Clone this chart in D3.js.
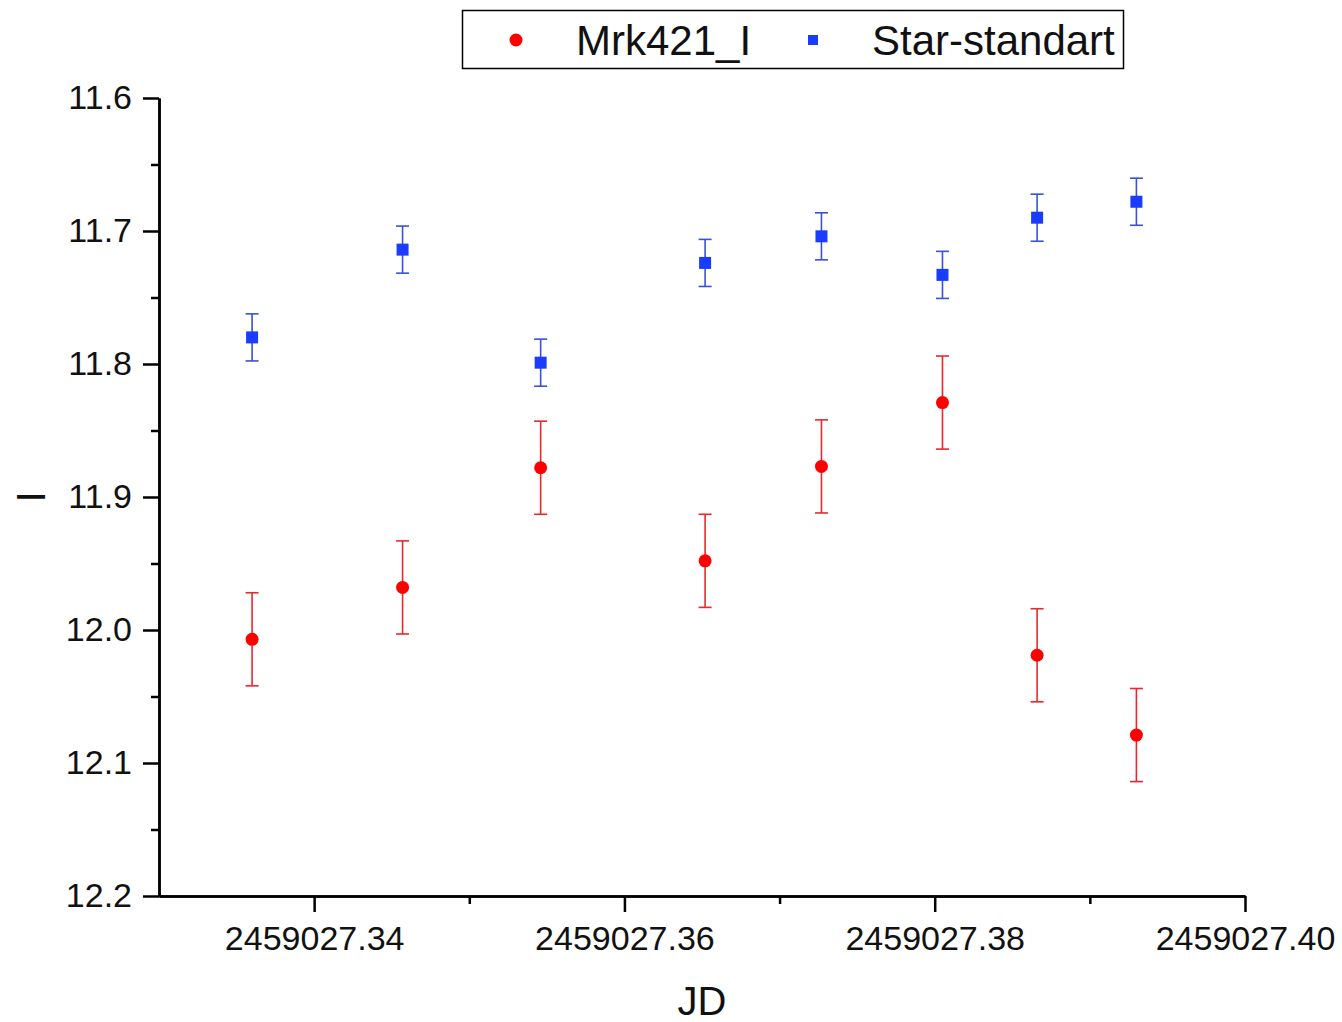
<!DOCTYPE html>
<html><head><meta charset="utf-8">
<script src="https://cdn.jsdelivr.net/npm/d3@7"></script>
<style>html,body{margin:0;padding:0;background:#fff;}</style>
</head><body>
<svg id="chart" width="1342" height="1022"></svg>
<script>
const jd = [2459027.3360, 2459027.3457, 2459027.3546, 2459027.3652, 2459027.3727, 2459027.3805, 2459027.3866, 2459027.3930];
const mrk421 = [12.007, 11.968, 11.878, 11.948, 11.877, 11.829, 12.019, 12.079];
const mrk421Err = [0.035, 0.035, 0.035, 0.035, 0.035, 0.035, 0.035, 0.035];
const starStd = [11.780, 11.714, 11.799, 11.724, 11.704, 11.733, 11.690, 11.678];
const starErr = [0.0177, 0.0177, 0.0177, 0.0177, 0.0177, 0.0177, 0.0177, 0.0177];
const xTicks = [2459027.34, 2459027.36, 2459027.38, 2459027.40];
const xMinor = [2459027.35, 2459027.37, 2459027.39];
const yTicks = [11.6, 11.7, 11.8, 11.9, 12.0, 12.1, 12.2];
const yMinor = [11.65, 11.75, 11.85, 11.95, 12.05, 12.15];
const seriesNames = ["Mrk421_I", "Star-standart"];

const font = "Arial, 'Liberation Sans', sans-serif";
const svg = d3.select("#chart");
const L = 159, R = 1245, T = 98, B = 896;
const x = d3.scaleLinear().domain([2459027.33, 2459027.40]).range([L, R]);
const y = d3.scaleLinear().domain([11.6, 12.2]).range([T, B]);

const red = "#ff0000", redBar = "#e8282e";
const blue = "#1a3cff", blueBar = "#3a4fdc";

const xAxis = d3.axisBottom(x).tickValues(xTicks).tickFormat(d3.format(".2f")).tickSizeInner(16).tickSizeOuter(0).tickPadding(14);
const xAxisMinor = d3.axisBottom(x).tickValues(xMinor).tickFormat("").tickSizeInner(8).tickSizeOuter(0);
const yAxis = d3.axisLeft(y).tickValues(yTicks).tickFormat(d3.format(".1f")).tickSizeInner(16).tickSizeOuter(0).tickPadding(11);
const yAxisMinor = d3.axisLeft(y).tickValues(yMinor).tickFormat("").tickSizeInner(8).tickSizeOuter(0);

function style(g){
  g.selectAll("path.domain").attr("stroke","#000").attr("stroke-width",2.5);
  g.selectAll(".tick line").attr("stroke","#000").attr("stroke-width",2.5);
  g.selectAll("text").attr("font-family",font).attr("font-size",34).attr("fill","#111");
}
svg.append("g").attr("transform",`translate(0,${B})`).call(xAxisMinor).call(style);
svg.append("g").attr("transform",`translate(0,${B})`).call(xAxis).call(style);
svg.append("g").attr("transform",`translate(${L},0)`).call(yAxisMinor).call(style);
svg.append("g").attr("transform",`translate(${L},0)`).call(yAxis).call(style);

svg.append("text").attr("x",702).attr("y",1015).attr("text-anchor","middle")
  .attr("font-family",font).attr("font-size",40).attr("fill","#111").text("JD");
svg.append("text").attr("transform",`translate(45,${(T+B)/2}) rotate(-90)`).attr("text-anchor","middle")
  .attr("font-family",font).attr("font-size",40).attr("fill","#111").text("I");

function drawSeries(vals, errs, barColor, markColor, shape){
  const g = svg.append("g");
  const data = jd.map((d,i)=>({x:d, y:vals[i], e:errs[i]}));
  const capW = 6.5;
  data.forEach(d=>{
    const cx = x(d.x), y1 = y(d.y - d.e), y2 = y(d.y + d.e);
    g.append("line").attr("x1",cx).attr("x2",cx).attr("y1",y1).attr("y2",y2).attr("stroke",barColor).attr("stroke-width",1.6);
    g.append("line").attr("x1",cx-capW).attr("x2",cx+capW).attr("y1",y1).attr("y2",y1).attr("stroke",barColor).attr("stroke-width",1.6);
    g.append("line").attr("x1",cx-capW).attr("x2",cx+capW).attr("y1",y2).attr("y2",y2).attr("stroke",barColor).attr("stroke-width",1.6);
  });
  if(shape==="circle"){
    g.selectAll("circle").data(data).join("circle").attr("cx",d=>x(d.x)).attr("cy",d=>y(d.y)).attr("r",6.5).attr("fill",markColor);
  } else {
    g.selectAll("rect").data(data).join("rect").attr("x",d=>x(d.x)-6).attr("y",d=>y(d.y)-6).attr("width",12).attr("height",12).attr("fill",markColor);
  }
}
drawSeries(starStd, starErr, blueBar, blue, "square");
drawSeries(mrk421, mrk421Err, redBar, red, "circle");

const lg = svg.append("g");
lg.append("rect").attr("x",462.5).attr("y",10.5).attr("width",661).attr("height",58).attr("fill","#fff").attr("stroke","#000").attr("stroke-width",1.5);
lg.append("circle").attr("cx",516).attr("cy",40).attr("r",6.5).attr("fill",red);
lg.append("text").attr("x",576).attr("y",55).attr("font-family",font).attr("font-size",42).attr("fill","#111").text(seriesNames[0]);
lg.append("rect").attr("x",808).attr("y",35).attr("width",10).attr("height",10).attr("fill",blue);
lg.append("text").attr("x",872).attr("y",55).attr("font-family",font).attr("font-size",42).attr("fill","#111").text(seriesNames[1]);
</script>
</body></html>
